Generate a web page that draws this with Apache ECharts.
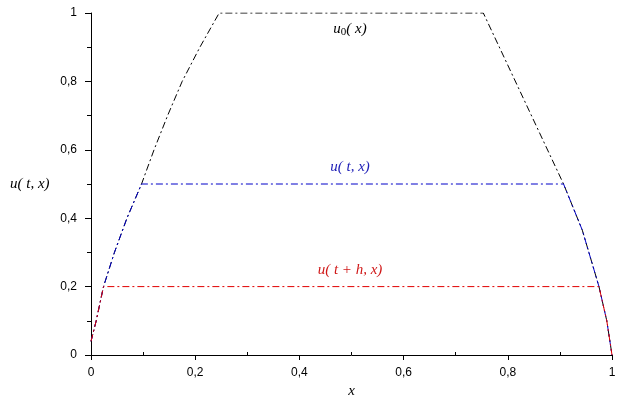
<!DOCTYPE html>
<html>
<head>
<meta charset="utf-8">
<script src="https://cdn.jsdelivr.net/npm/echarts@6/dist/echarts.min.js"></script>
<style>
    * { margin: 0; padding: 0; }
    #main { width: 622px; height: 400px; background: #fff; }
</style>
</head>
<body>
<div id="main"></div>
<script>
// curve points
var u0X = [0, 0.01, 0.024, 0.045, 0.069, 0.097, 0.121, 0.147, 0.175, 0.209, 0.246, 0.753, 0.83, 0.907, 0.943, 0.975, 0.99, 1];
var u0Y = [0.04, 0.1, 0.2, 0.3, 0.4, 0.5, 0.6, 0.7, 0.8, 0.9, 1, 1, 0.75, 0.5, 0.365, 0.2, 0.1, 0];

var uX = [0, 0.01, 0.024, 0.045, 0.069, 0.097, 0.907, 0.943, 0.975, 0.99, 1];
var uY = [0.04, 0.1, 0.2, 0.3, 0.4, 0.5, 0.5, 0.365, 0.2, 0.1, 0];

var uhX = [0, 0.01, 0.024, 0.975, 0.99, 1];
var uhY = [0.04, 0.1, 0.2, 0.2, 0.1, 0];

var xMinorTicks = [0.1, 0.3, 0.5, 0.7, 0.9];

function pairs(xs, ys) {
    return xs.map(function (x, i) { return [x, ys[i]]; });
}

function comma(v) {
    return String(Math.round(v * 10) / 10).replace('.', ',');
}

var dashDot = [7, 3, 2, 3];
var tickFont = { fontFamily: 'Liberation Sans', fontSize: 12, color: '#000' };
var italic = { fontFamily: 'Liberation Serif', fontStyle: 'italic', fontSize: 15, color: '#000' };

var myChart = echarts.init(document.getElementById('main'));

var option = {
    animation: false,
    backgroundColor: '#fff',
    grid: { left: 91, right: 10, top: 13, bottom: 45, outerBoundsMode: 'none' },
    xAxis: [{
        type: 'value',
        min: 0, max: 1, interval: 0.2,
        name: 'x',
        nameLocation: 'middle',
        nameGap: 28,
        nameTextStyle: italic,
        axisLine: { lineStyle: { color: '#000', width: 1 } },
        axisTick: { length: 5, lineStyle: { color: '#000' } },
        axisLabel: Object.assign({ margin: 12, formatter: comma }, tickFont),
        splitLine: { show: false }
    }, {
        // short inside ticks at the odd tenths
        type: 'value',
        position: 'bottom',
        min: 0, max: 1,
        axisLine: { show: false },
        axisTick: { inside: true, length: 3, customValues: xMinorTicks, lineStyle: { color: '#000' } },
        axisLabel: { show: false },
        splitLine: { show: false }
    }],
    yAxis: {
        type: 'value',
        min: 0, max: 1, interval: 0.2,
        axisLine: { show: true, lineStyle: { color: '#000', width: 1 } },
        axisTick: { show: true, length: 6, lineStyle: { color: '#000' } },
        minorTick: { show: true, splitNumber: 2, length: 4, lineStyle: { color: '#000' } },
        axisLabel: Object.assign({ margin: 14, formatter: comma }, tickFont),
        splitLine: { show: false }
    },
    graphic: [{
        type: 'text', left: 10, top: 177,
        style: { text: 'u( t, x)', font: 'italic 15px "Liberation Serif"', fill: '#000' }
    }, {
        type: 'text', x: 350, y: 29,
        style: {
            text: '{a|u}{s|0}{a|( x)}',
            align: 'center', verticalAlign: 'middle',
            rich: {
                a: { font: 'italic 15px "Liberation Serif"', fill: '#000', lineHeight: 18 },
                s: { font: '11px "Liberation Serif"', fill: '#000', verticalAlign: 'bottom', lineHeight: 18 }
            }
        }
    }, {
        type: 'text', x: 350, y: 167,
        style: { text: 'u( t, x)', font: 'italic 15px "Liberation Serif"', fill: '#2222b8', align: 'center', verticalAlign: 'middle' }
    }, {
        type: 'text', x: 350, y: 270,
        style: { text: 'u( t + h, x)', font: 'italic 15px "Liberation Serif"', fill: '#d01818', align: 'center', verticalAlign: 'middle' }
    }],
    series: [{
        name: 'u0',
        type: 'line',
        data: pairs(u0X, u0Y),
        showSymbol: false,
        lineStyle: { color: '#000', width: 1, type: dashDot }
    }, {
        name: 'u',
        type: 'line',
        data: pairs(uX, uY),
        showSymbol: false,
        lineStyle: { color: '#0000c8', width: 1, type: dashDot }
    }, {
        name: 'uh',
        type: 'line',
        data: pairs(uhX, uhY),
        showSymbol: false,
        lineStyle: { color: '#e00000', width: 1, type: dashDot }
    }]
};

myChart.setOption(option);
</script>
</body>
</html>
